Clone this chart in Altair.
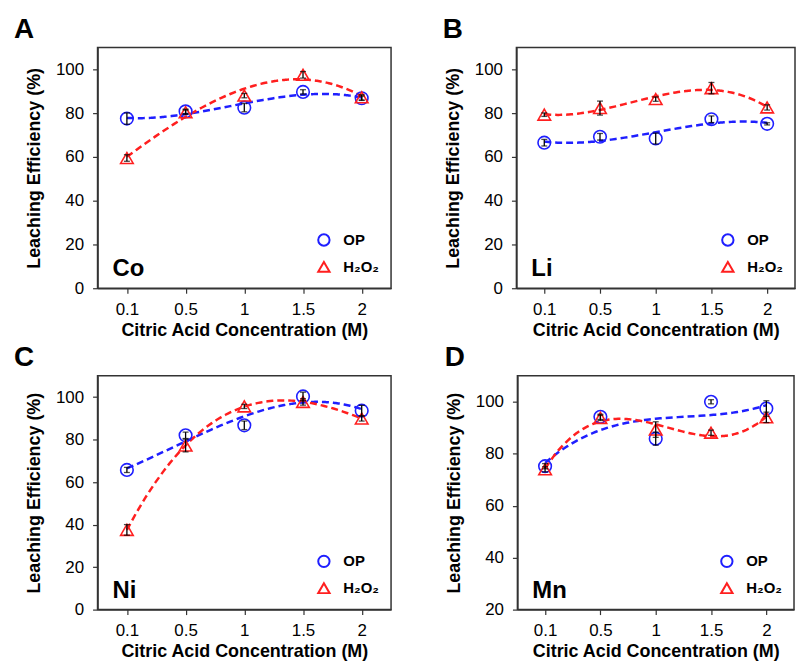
import altair as alt
import pandas as pd

conc_labels = ["0.1", "0.5", "1", "1.5", "2"]
series_names = ["OP", "H₂O₂"]
series_colors = ["#1f1fff", "#ff1f1f"]
series_shapes = ["circle", "triangle-up"]

# Co
co_op = [77.5, 80.8, 82.5, 89.7, 86.8]
co_op_err = [2.6, 1.0, 1.9, 1.0, 1.0]
co_h2 = [59.5, 80.4, 88.0, 97.5, 87.2]
co_h2_err = [1.5, 1.0, 1.0, 1.5, 1.2]
# Li
li_op = [66.5, 69.2, 68.4, 77.2, 75.1]
li_op_err = [1.5, 1.5, 2.5, 1.5, 0.5]
li_h2 = [79.3, 82.3, 86.4, 91.4, 82.6]
li_h2_err = [0.8, 3.2, 1.0, 2.6, 1.2]
# Ni
ni_op = [65.7, 82.0, 86.7, 100.3, 93.6]
ni_op_err = [1.2, 1.5, 2.0, 2.0, 2.5]
ni_h2 = [37.5, 77.2, 95.6, 97.7, 89.9]
ni_h2_err = [2.5, 3.0, 1.0, 1.5, 1.2]
# Mn
mn_op = [75.2, 94.2, 85.8, 100.0, 97.4]
mn_op_err = [1.0, 1.0, 2.5, 0.8, 3.0]
mn_h2 = [74.0, 93.8, 89.3, 88.1, 94.0]
mn_h2_err = [1.0, 1.0, 3.0, 1.0, 2.0]

FONT = "Liberation Sans"


def make_df(op, op_err, h2, h2_err):
    rows = []
    for s, vals, errs in [(series_names[0], op, op_err), (series_names[1], h2, h2_err)]:
        for i, (v, e) in enumerate(zip(vals, errs)):
            rows.append({"idx": i, "conc": conc_labels[i], "series": s,
                         "value": v, "lo": v - e, "hi": v + e})
    return pd.DataFrame(rows)


def panel(letter, element, op, op_err, h2, h2_err, ymin, w, h, dx):
    df = make_df(op, op_err, h2, h2_err)
    base = alt.Chart(df)
    x = alt.X("idx:Q", scale=alt.Scale(domain=[-0.5, 4.5], nice=False, zero=False),
              axis=alt.Axis(values=[0, 1, 2, 3, 4],
                            labelExpr="['0.1','0.5','1','1.5','2'][datum.value]",
                            title="Citric Acid Concentration (M)", grid=False,
                            titlePadding=4, labelPadding=8))
    y = alt.Y("value:Q", scale=alt.Scale(domain=[ymin, 110], nice=False, zero=False),
              axis=alt.Axis(values=list(range(ymin, 101, 20)), grid=False,
                            title="Leaching Efficiency (%)", titlePadding=12,
                            labelPadding=9))
    layers = []
    for s, c in zip(series_names, series_colors):
        layers.append(
            base.transform_filter(alt.datum.series == s)
            .transform_regression("idx", "value", method="poly", order=3, extent=[0, 4])
            .mark_line(color=c, strokeWidth=2.5, strokeDash=[7, 4])
            .encode(x=x, y=y)
        )
    leg = alt.Legend(title=None, orient="bottom-right", offset=12, labelFont=FONT,
                     labelFontSize=15, labelFontWeight="bold", labelColor="black",
                     rowPadding=7, labelOffset=12, symbolSize=130,
                     symbolStrokeWidth=2)
    pts = base.mark_point(filled=False, size=160, strokeWidth=1.6, opacity=1).encode(
        x=x, y=y,
        color=alt.Color("series:N", scale=alt.Scale(domain=series_names, range=series_colors), legend=leg),
        shape=alt.Shape("series:N", scale=alt.Scale(domain=series_names, range=series_shapes), legend=leg),
    )
    rule = base.mark_rule(color="black", strokeWidth=1.3).encode(
        x=x, y=alt.Y("lo:Q"), y2="hi:Q")
    cap_lo = base.mark_tick(color="black", orient="horizontal", size=6, thickness=1.3).encode(
        x=x, y=alt.Y("lo:Q"))
    cap_hi = base.mark_tick(color="black", orient="horizontal", size=6, thickness=1.3).encode(
        x=x, y=alt.Y("hi:Q"))
    lab = alt.Chart(pd.DataFrame({"label": [element]})).mark_text(
        align="left", baseline="alphabetic", font=FONT, fontSize=24,
        fontWeight="bold", color="black").encode(
        text="label:N", x=alt.value(15), y=alt.value(h - 12))
    return alt.layer(*layers, pts, rule, cap_lo, cap_hi, lab).properties(
        width=w, height=h,
        title=alt.TitleParams(letter, anchor="start", frame="group", dx=dx,
                              fontSize=28, fontWeight="bold", font=FONT,
                              color="black", offset=4),
    )


A = panel("A", "Co", co_op, co_op_err, co_h2, co_h2_err, 0, 295, 242, -84)
B = panel("B", "Li", li_op, li_op_err, li_h2, li_h2_err, 0, 280, 242, -74)
C = panel("C", "Ni", ni_op, ni_op_err, ni_h2, ni_h2_err, 0, 295, 235, -84)
D = panel("D", "Mn", mn_op, mn_op_err, mn_h2, mn_h2_err, 20, 278, 235, -73)

row1 = alt.hconcat(A, B, spacing=50).resolve_scale(
    color="independent", shape="independent").resolve_legend(
    color="independent", shape="independent")
row2 = alt.hconcat(C, D, spacing=52).resolve_scale(
    color="independent", shape="independent").resolve_legend(
    color="independent", shape="independent")

chart = alt.vconcat(row1, row2, spacing=3).resolve_scale(
    color="independent", shape="independent").resolve_legend(
    color="independent", shape="independent").properties(
    padding={"left": 5, "top": 5, "right": 0, "bottom": 0}
).configure_view(
    stroke="#333333", strokeWidth=1.5
).configure_axis(
    labelFont=FONT, labelFontSize=17, labelColor="black",
    titleFont=FONT, titleFontSize=18, titleFontWeight="bold", titleColor="black",
    domainColor="#333333", domainWidth=1.5, tickColor="#333333", tickSize=5,
    tickWidth=1.2,
)

chart.save("out.html", embed_options={"renderer": "svg", "actions": False})
